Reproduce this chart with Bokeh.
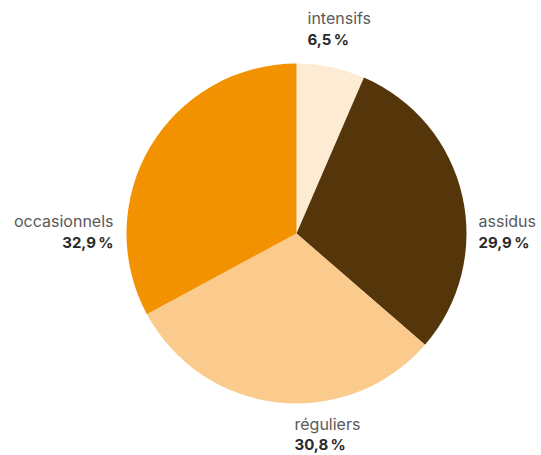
import math
from bokeh.plotting import figure
from bokeh.models import ColumnDataSource, Range1d
from bokeh.core.properties import value
from bokeh.embed import file_html
from bokeh.resources import INLINE

categories = ["intensifs", "assidus", "réguliers", "occasionnels"]
shares = [6.5, 29.9, 30.8, 32.9]
value_labels = ["6,5\u202f%", "29,9\u202f%", "30,8\u202f%", "32,9\u202f%"]
colors = ["#FDEBD4", "#55350A", "#FBCB8D", "#F39200"]

W, H = 541, 455
cx, cy, R = 296, H - 233, 170

total = sum(shares)
starts, ends = [], []
acc = 0.0
for s in shares:
    a0 = acc / total
    acc += s
    a1 = acc / total
    starts.append(math.pi / 2 - a1 * 2 * math.pi)
    ends.append(math.pi / 2 - a0 * 2 * math.pi)

src = ColumnDataSource(dict(cat=categories, start=starts, end=ends, color=colors))

p = figure(width=W, height=H, output_backend="svg", toolbar_location=None,
           x_range=Range1d(0, W), y_range=Range1d(0, H), min_border=0)
p.axis.visible = False
p.grid.visible = False
p.outline_line_color = None
p.background_fill_color = "white"

p.wedge(x=cx, y=cy, radius=R, start_angle="start", end_angle="end",
        fill_color="color", line_color=None, source=src)

# label layout (anchor positions in screen pixels: x, name y, value y, align)
layout = [
    (307, 17, 39, "left"),
    (478, 220, 242, "left"),
    (294, 423, 444, "left"),
    (113, 220, 242, "right"),
]
lx = [l[0] for l in layout]
ny = [H - l[1] for l in layout]
vy = [H - l[2] for l in layout]
al = [l[3] for l in layout]

lsrc = ColumnDataSource(dict(x=lx, ny=ny, vy=vy, align=al, name=categories, val=value_labels))
p.text(x="x", y="ny", text="name", text_align="align", text_baseline="middle",
       text_font=value("Inter"), text_font_size="16px", text_color="#5a5a5a", source=lsrc)
p.text(x="x", y="vy", text="val", text_align="align", text_baseline="middle",
       text_font=value("Inter"), text_font_size="15px", text_font_style="bold",
       text_color="#2a2a2a", source=lsrc)

open("out.html", "w").write(file_html(p, INLINE))
